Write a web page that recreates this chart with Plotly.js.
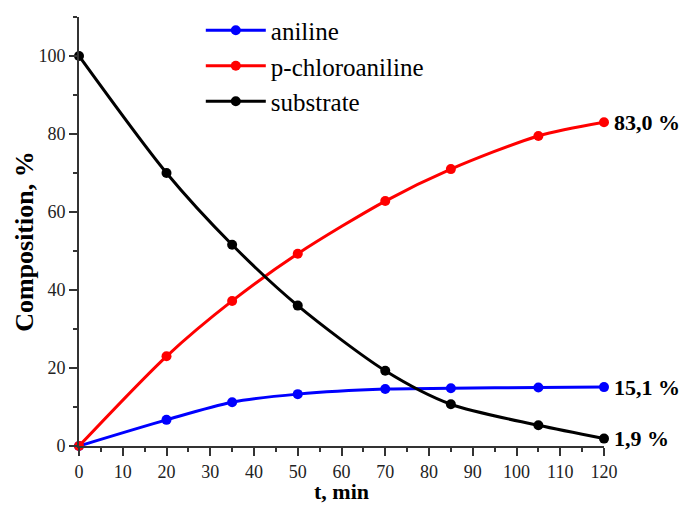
<!DOCTYPE html>
<html>
<head>
<meta charset="utf-8">
<script src="https://cdn.plot.ly/plotly-3.0.1.min.js"></script>
<style>
  html, body { margin: 0; padding: 0; background: #fff; }
  #chart { width: 684px; height: 505px; }
</style>
</head>
<body>
<div id="chart"></div>
<script>
// Reaction time, min
const timeMin = [0, 20, 35, 50, 70, 85, 105, 120];

// Composition of the reaction mixture, %
const aniline = [0, 6.7, 11.2, 13.3, 14.6, 14.8, 15.0, 15.1];
const pChloroaniline = [0, 23.0, 37.2, 49.3, 62.8, 71.0, 79.5, 83.0];
const substrate = [100, 70.0, 51.6, 36.0, 19.3, 10.7, 5.3, 1.9];

const seriesNames = ['aniline', 'p-chloroaniline', 'substrate'];
const seriesColors = ['#0000ff', '#ff0000', '#000000'];
const seriesValues = [aniline, pChloroaniline, substrate];

// Final-value labels (comma decimal separator)
const finalLabels = ['15,1 %', '83,0 %', '1,9 %'];

const serif = 'Liberation Serif, Times New Roman, serif';

const traces = seriesValues.map((vals, i) => ({
  x: timeMin,
  y: vals,
  name: seriesNames[i],
  type: 'scatter',
  mode: 'lines+markers',
  line: { color: seriesColors[i], width: 3, shape: 'spline', smoothing: 0.8 },
  marker: { color: seriesColors[i], size: 10 },
  cliponaxis: false
}));

const annotations = seriesValues.map((vals, i) => ({
  x: timeMin[timeMin.length - 1],
  y: vals[vals.length - 1],
  xref: 'x', yref: 'y',
  text: '<b>' + finalLabels[i] + '</b>',
  showarrow: false,
  xanchor: 'left',
  yanchor: 'middle',
  xshift: 8,
  font: { family: serif, size: 22, color: '#000' }
}));

// Axis titles, set close to the tick labels
annotations.push({
  xref: 'paper', yref: 'paper',
  x: -0.103, y: 0.478,
  xanchor: 'center', yanchor: 'middle',
  textangle: -90,
  showarrow: false,
  text: '<b>Composition, %</b>',
  font: { family: serif, size: 26, color: '#000' }
});
annotations.push({
  xref: 'paper', yref: 'paper',
  x: 0.5, y: -0.107,
  xanchor: 'center', yanchor: 'middle',
  showarrow: false,
  borderpad: 0,
  text: '<b>t, min</b>',
  font: { family: serif, size: 22, color: '#000' }
});

const layout = {
  width: 684,
  height: 505,
  margin: { l: 79, r: 80, t: 17, b: 59, autoexpand: false },
  paper_bgcolor: '#fff',
  plot_bgcolor: '#fff',
  showlegend: true,
  legend: {
    x: 0.232, y: 1.022, xanchor: 'left', yanchor: 'top',
    bgcolor: 'rgba(0,0,0,0)',
    font: { family: serif, size: 25, color: '#000' },
    tracegroupgap: 0,
    itemwidth: 60
  },
  xaxis: {
    range: [0, 120],
    tickvals: [0, 10, 20, 30, 40, 50, 60, 70, 80, 90, 100, 110, 120],
    ticks: 'outside', ticklen: 8, tickwidth: 2, tickcolor: '#333',
    minor: { dtick: 5, ticks: 'outside', ticklen: 4, tickwidth: 2, tickcolor: '#333' },
    showline: true, linecolor: '#333', linewidth: 2,
    showgrid: false, zeroline: false,
    tickfont: { family: serif, size: 18, color: '#222' }
  },
  yaxis: {
    range: [0, 110],
    tickvals: [0, 20, 40, 60, 80, 100],
    ticks: 'outside', ticklen: 8, tickwidth: 2, tickcolor: '#333',
    minor: { tickvals: [10, 30, 50, 70, 90, 110], ticks: 'outside', ticklen: 4, tickwidth: 2, tickcolor: '#333' },
    showline: true, linecolor: '#333', linewidth: 2,
    showgrid: false, zeroline: false,
    tickfont: { family: serif, size: 18, color: '#222' }
  },
  annotations: annotations
};

Plotly.newPlot('chart', traces, layout, { displayModeBar: false, staticPlot: true });
</script>
</body>
</html>
